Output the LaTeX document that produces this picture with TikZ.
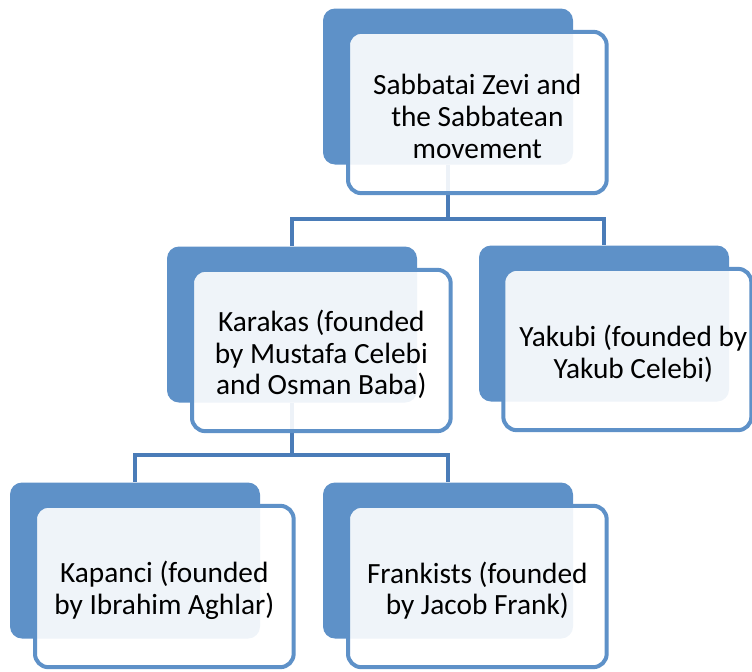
\documentclass[tikz,border=0pt]{standalone}
\usepackage{fontspec}
\setmainfont{Carlito}
\definecolor{boxblue}{RGB}{94,145,200}
\definecolor{lineblue}{RGB}{74,124,184}

\begin{document}
\begin{tikzpicture}[x=0.75pt, y=-0.75pt,
		backbox/.style={fill=boxblue, rounded corners=9pt, minimum width=187.5pt, minimum height=117pt, inner sep=0pt},
		frontbox/.style={draw=boxblue, line width=3pt, fill=white, fill opacity=0.9, text opacity=1, rounded corners=10pt, minimum width=194pt, minimum height=121pt, inner sep=0pt, xshift=22pt, yshift=-19.5pt},
		boxtext/.style={align=center, font=\fontsize{22}{23.8}\selectfont, yshift=-3pt},
		conn/.style={draw=lineblue, line width=3pt}]
			\useasboundingbox (0, 0) rectangle (752, 671);
			
			% back boxes
			\node[backbox] (topback) at (448, 86.5) {};
			\node[backbox] (karakasback) at (292, 324.5) {};
			\node[backbox] (yakubiback) at (604, 323.5) {};
			\node[backbox] (kapanciback) at (135, 560.5) {};
			\node[backbox] (frankistsback) at (448, 560.5) {};
			
			% connectors
			\coordinate (split1) at (448, 219);
			\coordinate (split2) at (292, 455);
			\draw[conn] (topback.south) -- (split1) -| (karakasback.north);
			\draw[conn] (split1) -| (yakubiback.north);
			\draw[conn] (karakasback.south) -- (split2) -| (kapanciback.north);
			\draw[conn] (split2) -| (frankistsback.north);
			
			% front boxes
			\node[frontbox, label={[boxtext]center:Sabbatai Zevi and\\the Sabbatean\\movement}] (top) at (topback) {};
			\node[frontbox, label={[boxtext]center:Karakas (founded\\by Mustafa Celebi\\and Osman Baba)}] (karakas) at (karakasback) {};
			\node[frontbox, minimum width=186pt, xshift=-4.5pt, label={[boxtext, xshift=4.5pt]center:Yakubi (founded by\\Yakub Celebi)}] (yakubi) at (yakubiback) {};
			\node[frontbox, label={[boxtext]center:Kapanci (founded\\by Ibrahim Aghlar)}] (kapanci) at (kapanciback) {};
			\node[frontbox, label={[boxtext]center:Frankists (founded\\by Jacob Frank)}] (frankists) at (frankistsback) {};
		\end{tikzpicture}
\end{document}
